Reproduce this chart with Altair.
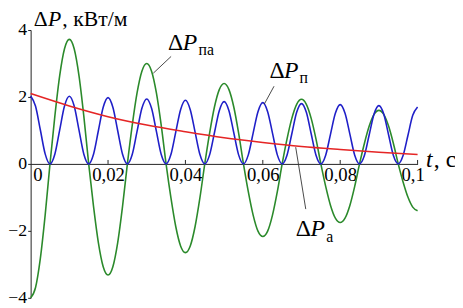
import altair as alt
import pandas as pd

# ---------------- data ----------------
# time grid for the oscillating curves (s)
t_fine = [round(i * 0.00125, 5) for i in range(81)]

# ΔP_п (blue)
p_n = [2.03, 1.73, 1.02, 0.30, 0, 0.29, 1.01, 1.73,
       2.02, 1.73, 1.01, 0.29, 0, 0.29, 0.99, 1.69,
       1.98, 1.69, 0.99, 0.29, 0, 0.28, 0.97, 1.66,
       1.94, 1.66, 0.97, 0.28, 0, 0.28, 0.95, 1.62,
       1.90, 1.62, 0.95, 0.28, 0, 0.27, 0.93, 1.59,
       1.86, 1.59, 0.93, 0.27, 0, 0.27, 0.92, 1.56,
       1.83, 1.56, 0.92, 0.27, 0, 0.26, 0.90, 1.54,
       1.80, 1.54, 0.90, 0.26, 0, 0.26, 0.89, 1.51,
       1.77, 1.51, 0.89, 0.26, 0, 0.25, 0.87, 1.49,
       1.74, 1.49, 0.87, 0.25, 0, 0.25, 0.85, 1.45,
       1.70]

# ΔP_па (green)
p_na = [-4.0, -3.70, -2.83, -1.53, 0, 1.42, 2.63, 3.44,
        3.72, 3.44, 2.63, 1.42, 0, -1.27, -2.35, -3.07,
        -3.32, -3.07, -2.35, -1.27, 0, 1.15, 2.12, 2.77,
        3.0, 2.77, 2.12, 1.15, 0, -1.01, -1.87, -2.45,
        -2.65, -2.45, -1.87, -1.01, 0, 0.92, 1.70, 2.22,
        2.4, 2.22, 1.70, 0.92, 0, -0.83, -1.53, -2.01,
        -2.17, -2.01, -1.53, -0.83, 0, 0.74, 1.36, 1.78,
        1.93, 1.78, 1.36, 0.74, 0, -0.67, -1.24, -1.62,
        -1.75, -1.62, -1.24, -0.67, 0, 0.61, 1.13, 1.48,
        1.6, 1.48, 1.13, 0.61, 0, -0.54, -0.99, -1.29,
        -1.4]

# ΔP_а (red)
t_red = [0, 0.01, 0.02, 0.03, 0.04, 0.05, 0.06, 0.07, 0.08, 0.09, 0.1]
p_a = [2.10, 1.73, 1.41, 1.16, 0.96, 0.78, 0.64, 0.52, 0.43, 0.35, 0.28]

x_ticks = [0, 0.02, 0.04, 0.06, 0.08, 0.1]
x_tick_labels = ["0", "0,02", "0,04", "0,06", "0,08", "0,1"]
y_ticks = [-4, -2, 0, 2, 4]

# annotation texts (data coordinates)
ann_text = ["Δ", "P", ", кВт/м",
            "Δ", "P", "па",
            "Δ", "P", "п",
            "Δ", "P", "а",
            "t", ", с"]
ann_t = [0.0008, 0.0045, 0.0082,
         0.0355, 0.0393, 0.0434,
         0.0617, 0.0655, 0.0695,
         0.0685, 0.0723, 0.0764,
         0.1022, 0.1042]
ann_v = [4.13, 4.13, 4.13,
         3.41, 3.41, 3.26,
         2.56, 2.56, 2.41,
         -2.15, -2.15, -2.32,
         -0.1, -0.1]
ann_italic = [0, 1, 0, 0, 1, 0, 0, 1, 0, 0, 1, 0, 1, 0]
ann_size = [22, 22, 22, 24, 24, 16, 24, 24, 16, 24, 24, 16, 24, 24]

# leader lines
lead_t1 = [0.0317, 0.0604, 0.0685]
lead_v1 = [2.71, 1.79, 0.50]
lead_t2 = [0.0363, 0.0629, 0.0711]
lead_v2 = [3.21, 2.32, -1.35]

# ---------------- build tables ----------------
df_n = pd.DataFrame({"t": t_fine, "v": p_n})
df_na = pd.DataFrame({"t": t_fine, "v": p_na})
df_a = pd.DataFrame({"t": t_red, "v": p_a})
df_ann = pd.DataFrame({"t": ann_t, "v": ann_v, "text": ann_text,
                       "italic": ann_italic, "size": ann_size})
df_lead = pd.DataFrame({"t": lead_t1, "v": lead_v1, "t2": lead_t2, "v2": lead_v2})
df_xt = pd.DataFrame({"t": x_ticks[1:]})

FONT = "Liberation Serif"
AX = "#222"
xscale = alt.Scale(domain=[0, 0.1], nice=False, zero=False)
yscale = alt.Scale(domain=[-4, 4], nice=False)

label_expr = "[" + ",".join("'%s'" % s for s in x_tick_labels) + "][round(datum.value/0.02)]"

x_enc = alt.X("t:Q", scale=xscale, axis=alt.Axis(
    orient="bottom", offset=-136, values=x_ticks, labelExpr=label_expr,
    ticks=False, grid=False, title=None, labelPadding=2, domainColor=AX,
    labelFlush=False, labelFontSize=19,
    labelOffset={"expr": "datum.value == 0 ? 7 : (datum.value > 0.09 ? -5 : 0)"}))
y_enc = alt.Y("v:Q", scale=yscale, axis=alt.Axis(
    values=y_ticks, title=None, grid=False, tickSize=3, labelPadding=1,
    domainColor=AX, tickColor=AX, labelFlush=False, labelFontSize=18))

green = alt.Chart(df_na).mark_line(color="#2b8a2b", strokeWidth=1.6, interpolate="monotone").encode(
    x=x_enc, y=y_enc)
blue = alt.Chart(df_n).mark_line(color="#1f1fc8", strokeWidth=1.6, interpolate="monotone").encode(
    x=x_enc, y=y_enc)
red = alt.Chart(df_a).mark_line(color="#e52525", strokeWidth=1.6, interpolate="monotone").encode(
    x=x_enc, y=y_enc)

# small upward x ticks on the t axis
xticks = alt.Chart(df_xt).mark_rule(color=AX, strokeWidth=1).encode(
    x=x_enc, y=alt.value(132), y2=alt.value(136))

leads = alt.Chart(df_lead).mark_rule(color="#333", strokeWidth=0.9).encode(
    x=x_enc, y=y_enc, x2="t2:Q", y2="v2:Q")

txt_norm = alt.Chart(df_ann).transform_filter("datum.italic == 0").mark_text(
    align="left", baseline="alphabetic", font=FONT, color="black").encode(
    x=x_enc, y=y_enc, text="text:N", size=alt.Size("size:Q", scale=None))
txt_it = alt.Chart(df_ann).transform_filter("datum.italic == 1").mark_text(
    align="left", baseline="alphabetic", font=FONT, fontStyle="italic", color="black").encode(
    x=x_enc, y=y_enc, text="text:N", size=alt.Size("size:Q", scale=None))

chart = alt.layer(green, blue, red, xticks, leads, txt_norm, txt_it).properties(
    width=393, height=272,
    autosize=alt.AutoSizeParams(type="none"),
    padding={"left": 23, "top": 20, "right": 38, "bottom": 8},
    background="white",
).configure_view(stroke=None).configure_axis(
    labelFont=FONT, labelColor="black")

chart.save("out.html", embed_options={"renderer": "svg", "actions": False})
